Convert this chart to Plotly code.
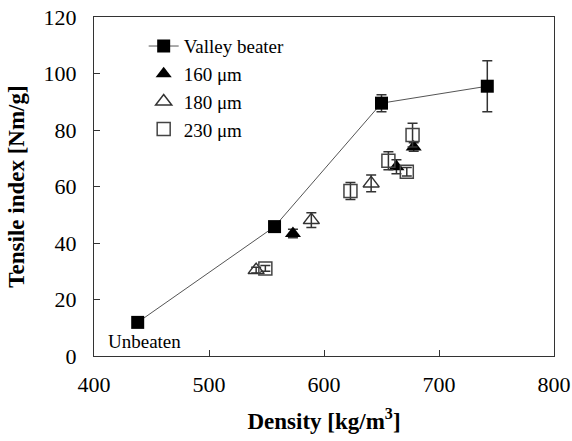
import plotly.graph_objects as go

# Valley beater
vb_x = [438, 557, 650, 742]
vb_y = [11.9, 45.8, 89.5, 95.5]
vb_err = [0.8, 0.8, 3.0, 9.0]

# 160 um
t160_x = [573, 663, 678]
t160_y = [43.4, 67.0, 74.0]
t160_err = [1.5, 2.5, 1.5]

# 180 um
t180_x = [541, 589, 641]
t180_y = [30.4, 48.1, 61.1]
t180_err = [1.0, 2.6, 3.0]

# 230 um
s230_x = [549, 623, 656, 672, 677]
s230_y = [31.0, 58.4, 69.1, 65.2, 78.2]
s230_err = [1.0, 3.0, 3.2, 1.5, 4.2]

FONT = "Liberation Serif"
ECOL = "#333333"

def eb(arr):
    return dict(type="data", array=arr, visible=True, color=ECOL, thickness=1.5, width=5)

fig = go.Figure()
fig.add_trace(go.Scatter(
    x=vb_x, y=vb_y, mode="lines+markers", name="Valley beater",
    line=dict(color="#555555", width=1),
    marker=dict(symbol="square", size=13, color="black"),
    error_y=eb(vb_err)))
fig.add_trace(go.Scatter(
    x=t160_x, y=t160_y, mode="markers", name="160 μm",
    marker=dict(symbol="triangle-up", size=14, color="black"),
    error_y=eb(t160_err)))
fig.add_trace(go.Scatter(
    x=t180_x, y=t180_y, mode="markers", name="180 μm",
    marker=dict(symbol="triangle-up-open", size=14, color="#333333", line=dict(width=1.5)),
    error_y=eb(t180_err)))
fig.add_trace(go.Scatter(
    x=s230_x, y=s230_y, mode="markers", name="230 μm",
    marker=dict(symbol="square-open", size=13, color="#444444", line=dict(width=1.5)),
    error_y=eb(s230_err)))

fig.add_annotation(x=410, y=5.3, xref="x", yref="y", text="Unbeaten", showarrow=False,
                   xanchor="left", yanchor="middle", font=dict(family=FONT, size=19, color="black"))

axis_common = dict(showgrid=False, zeroline=False, showline=True, linecolor="#333333", linewidth=1,
                   mirror=True, ticks="inside", ticklen=6, tickcolor="#333333", automargin=False,
                   ticklabeloverflow="allow",
                   tickfont=dict(family=FONT, size=22, color="black"))

fig.update_xaxes(range=[400, 800], tickvals=[400, 500, 600, 700, 800],
                 ticklabelstandoff=9,
                 title=dict(text="<b>Density [kg/m<sup>3</sup>]</b>", font=dict(family=FONT, size=23, color="black"), standoff=16),
                 **axis_common)
fig.update_yaxes(range=[0, 120], tickvals=[0, 20, 40, 60, 80, 100, 120],
                 ticklabelstandoff=12,
                 title=dict(text="<b>Tensile index [Nm/g]</b>", font=dict(family=FONT, size=23, color="black"), standoff=12),
                 **axis_common)

fig.update_layout(
    width=572, height=441,
    margin=dict(l=94, r=18, t=17, b=85),
    paper_bgcolor="white", plot_bgcolor="white",
    showlegend=True,
    legend=dict(x=0.108, y=0.97, xanchor="left", yanchor="top", bgcolor="rgba(0,0,0,0)",
                font=dict(family=FONT, size=19, color="black"), tracegroupgap=0),
)

fig.write_html("out.html", config={"displayModeBar": False},
               post_script="document.body.style.margin='0';")
